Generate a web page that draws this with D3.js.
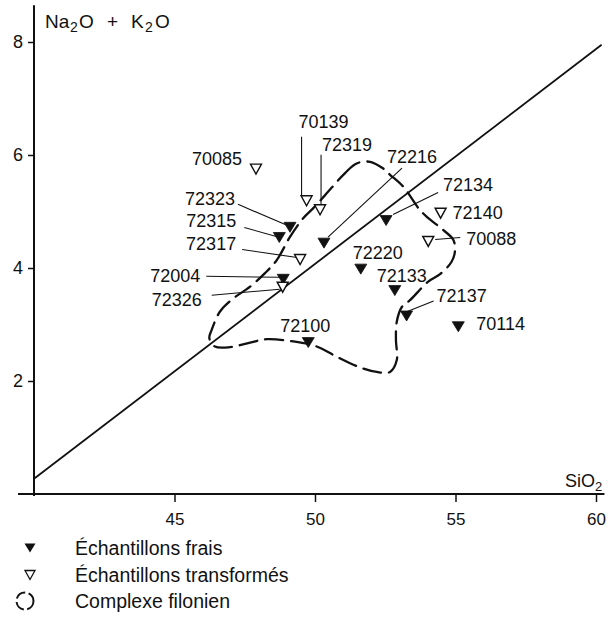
<!DOCTYPE html>
<html>
<head>
<meta charset="utf-8">
<script src="https://cdn.jsdelivr.net/npm/d3@7"></script>
<style>
  html, body { margin: 0; padding: 0; background: #fff; }
  svg { display: block; font-family: "Liberation Sans", Arial, sans-serif; }
</style>
</head>
<body>
<svg id="chart" width="612" height="617"></svg>
<script>
// Analysed samples: SiO2 (wt %) against total alkalis Na2O + K2O (wt %)
const sampleIds = ["70085", "70139", "72319", "72216", "72323", "72315", "72317", "72004", "72326",
                   "72220", "72133", "72100", "72134", "72140", "70088", "72137", "70114"];
const silica  = [47.90, 49.70, 50.18, 50.32, 49.11, 48.73, 49.47, 48.87, 48.85,
                 51.63, 52.84, 49.76, 52.53, 54.47, 54.03, 53.26, 55.10];
const alkalis = [5.75, 5.19, 5.03, 4.44, 4.72, 4.54, 4.15, 3.80, 3.66,
                 3.98, 3.60, 2.68, 4.84, 4.97, 4.47, 3.15, 2.96];
// "frais" = fresh sample, "transformé" = altered sample
const sampleState = ["transformé", "transformé", "transformé", "frais", "frais", "frais", "transformé", "frais", "transformé",
                     "frais", "frais", "frais", "frais", "transformé", "transformé", "frais", "frais"];

// Axis ticks
const xTicks = [45, 50, 55, 60];
const yTicks = [2, 4, 6, 8];

// Straight dividing line (two end points)
const boundarySilica  = [40, 60.2];
const boundaryAlkalis = [0.27, 7.95];

// Outline of the dyke complex (closed curve)
const filonSilica  = [50.36, 51.07, 51.48, 51.96, 52.43, 52.67, 53.14, 53.68, 53.97, 54.57, 54.92, 54.98, 54.86,
                      54.45, 54.03, 53.38, 53.09, 52.91, 52.88, 52.91, 52.67, 52.20, 51.60, 50.77, 50.06, 49.23,
                      48.28, 47.69, 46.98, 46.44, 46.24, 46.32, 46.62, 47.09, 47.69, 48.22, 48.64, 49.11, 49.58, 49.94];
const filonAlkalis = [5.29, 5.68, 5.85, 5.88, 5.76, 5.65, 5.44, 5.06, 4.91, 4.67, 4.50, 4.30, 4.11,
                      3.89, 3.76, 3.43, 3.31, 3.05, 2.73, 2.37, 2.16, 2.16, 2.24, 2.43, 2.61, 2.70,
                      2.74, 2.68, 2.60, 2.61, 2.76, 2.90, 3.23, 3.46, 3.67, 3.91, 4.14, 4.55, 4.88, 5.06];

// Legend entries
const legendLabels = ["Échantillons frais", "Échantillons transformés", "Complexe filonien"];

// Label placement (pixel offsets from each mark) and optional leader line
const labelLayout = {
  "70085": { dx: -64, dy: -11 },
  "70139": { dx: -8,  dy: -79, leader: [-5, -64, -5, -4] },
  "72319": { dx: 2,   dy: -65, leader: [1, -55, 1, -4] },
  "72216": { dx: 63,  dy: -87, leader: [78, -75, 4, -6] },
  "72323": { dx: -105, dy: -29, leader: [-52, -23, -3, -2] },
  "72315": { dx: -93, dy: -17, leader: [-35, -10, -3, -1] },
  "72317": { dx: -114, dy: -16, leader: [-58, -10, -3, -2] },
  "72004": { dx: -133, dy: -4, leader: [-77, -3, -2, -2] },
  "72326": { dx: -131, dy: 12, leader: [-71, 8, -3, 2] },
  "72220": { dx: -8,  dy: -17 },
  "72133": { dx: -18, dy: -15 },
  "72100": { dx: -28, dy: -17 },
  "72134": { dx: 57,  dy: -36, leader: [52, -28, 7, -6] },
  "72140": { dx: 12,  dy: -1 },
  "70088": { dx: 38,  dy: -3, leader: [7, -2, 32, -4] },
  "72137": { dx: 30,  dy: -21, leader: [27, -15, -3, -3] },
  "70114": { dx: 18,  dy: -3 }
};

const svg = d3.select("#chart");
const x = d3.scaleLinear().domain([40, 60]).range([34, 596]);
const y = d3.scaleLinear().domain([0, 8]).range([494, 42]);

const ink = "#111";

// Axis lines
svg.append("line")
  .attr("x1", 18).attr("x2", x(60.3))
  .attr("y1", y(0)).attr("y2", y(0))
  .attr("stroke", ink).attr("stroke-width", 2);
svg.append("line")
  .attr("x1", x(40)).attr("x2", x(40))
  .attr("y1", y(0) + 2).attr("y2", y(8.65))
  .attr("stroke", ink).attr("stroke-width", 2);

// X axis ticks and labels
const xAxis = svg.append("g")
  .attr("transform", `translate(0,${y(0)})`)
  .call(d3.axisBottom(x).tickValues(xTicks).tickSize(8).tickPadding(11));
xAxis.select(".domain").remove();
xAxis.selectAll(".tick line").attr("stroke", ink).attr("stroke-width", 1.5);
xAxis.selectAll(".tick text")
  .attr("fill", ink).style("font-size", "17px")
  .style("font-family", "'Liberation Sans', Arial, sans-serif");

// Y axis ticks and labels
const yAxis = svg.append("g")
  .attr("transform", `translate(${x(40)},0)`)
  .call(d3.axisLeft(y).tickValues(yTicks).tickSize(6).tickPadding(5));
yAxis.select(".domain").remove();
yAxis.selectAll(".tick line").attr("stroke", ink).attr("stroke-width", 1.5);
yAxis.selectAll(".tick text")
  .attr("fill", ink).style("font-size", "18px")
  .style("font-family", "'Liberation Sans', Arial, sans-serif");

// Axis titles
const yTitle = svg.append("text")
  .attr("y", 28).attr("fill", ink).style("font-size", "19px");
[["Na", 45, false], ["2", 70, true], ["O", 79, false], ["+", 107, false],
 ["K", 131, false], ["2", 145, true], ["O", 155, false]].forEach(([t, px, sub]) => {
  yTitle.append("tspan")
    .attr("x", px)
    .attr("baseline-shift", sub ? "-30%" : null)
    .style("font-size", sub ? "14px" : null)
    .text(t);
});

const xTitle = svg.append("text")
  .attr("x", 565).attr("y", 487).attr("fill", ink).style("font-size", "18px");
xTitle.append("tspan").text("SiO");
xTitle.append("tspan").attr("baseline-shift", "-30%").style("font-size", "13px").text("2");

// Dividing line
const lineGen = d3.line().x(d => x(d[0])).y(d => y(d[1]));
svg.append("path")
  .attr("d", lineGen(d3.zip(boundarySilica, boundaryAlkalis)))
  .attr("fill", "none").attr("stroke", ink).attr("stroke-width", 1.8);

// Dyke complex outline
const outlineGen = d3.line()
  .x(d => x(d[0])).y(d => y(d[1]))
  .curve(d3.curveCatmullRomClosed.alpha(0.5));
svg.append("path")
  .attr("d", outlineGen(d3.zip(filonSilica, filonAlkalis)))
  .attr("fill", "none").attr("stroke", ink).attr("stroke-width", 2.3)
  .attr("stroke-dasharray", "18,8").attr("stroke-linecap", "round");

// Downward triangle symbol
function triangle(cx, cy, w, h) {
  return `M${cx - w / 2},${cy - h / 2}L${cx + w / 2},${cy - h / 2}L${cx},${cy + h / 2}Z`;
}

const samples = sampleIds.map((id, i) => ({
  id, sx: silica[i], ay: alkalis[i], state: sampleState[i]
}));

// Leader lines
svg.append("g").selectAll("line")
  .data(samples.filter(d => labelLayout[d.id].leader))
  .join("line")
  .attr("x1", d => x(d.sx) + labelLayout[d.id].leader[0])
  .attr("y1", d => y(d.ay) + labelLayout[d.id].leader[1])
  .attr("x2", d => x(d.sx) + labelLayout[d.id].leader[2])
  .attr("y2", d => y(d.ay) + labelLayout[d.id].leader[3])
  .attr("stroke", ink).attr("stroke-width", 1.1);

// Sample marks
svg.append("g").selectAll("path")
  .data(samples)
  .join("path")
  .attr("d", d => d.state === "frais"
    ? triangle(x(d.sx), y(d.ay), 12, 10)
    : triangle(x(d.sx), y(d.ay), 11, 10))
  .attr("fill", d => d.state === "frais" ? ink : "#fff")
  .attr("stroke", ink)
  .attr("stroke-width", d => d.state === "frais" ? 0.8 : 1.4)
  .attr("stroke-linejoin", "miter");

// Sample labels
svg.append("g").selectAll("text")
  .data(samples)
  .join("text")
  .attr("x", d => x(d.sx) + labelLayout[d.id].dx)
  .attr("y", d => y(d.ay) + labelLayout[d.id].dy)
  .attr("dy", "0.36em")
  .attr("fill", ink)
  .style("font-size", "18px")
  .text(d => d.id);

// Legend
const legend = svg.append("g");
const rowY = [548, 575, 601];
legend.append("path").attr("d", triangle(30, rowY[0], 11, 9)).attr("fill", ink);
legend.append("path").attr("d", triangle(30, rowY[1], 10, 9))
  .attr("fill", "#fff").attr("stroke", ink).attr("stroke-width", 1.3);
legend.append("circle").attr("cx", 25).attr("cy", rowY[2]).attr("r", 8.5)
  .attr("fill", "none").attr("stroke", ink).attr("stroke-width", 2)
  .attr("stroke-dasharray", "11,3.5");
legend.selectAll("text")
  .data(legendLabels)
  .join("text")
  .attr("x", 75)
  .attr("y", (d, i) => rowY[i])
  .attr("dy", "0.36em")
  .attr("fill", ink)
  .style("font-size", "19.5px")
  .text(d => d);
</script>
</body>
</html>
